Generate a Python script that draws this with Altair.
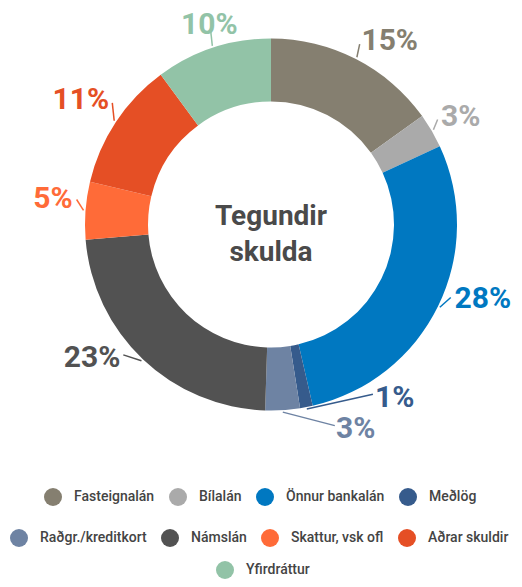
import altair as alt
import pandas as pd

# ---- data ----
categories = ["Fasteignalán", "Bílalán", "Önnur bankalán", "Meðlög",
              "Raðgr./kreditkort", "Námslán", "Skattur, vsk ofl",
              "Aðrar skuldir", "Yfirdráttur"]
shares = [15.1, 3.0, 28.3, 1.1, 3.0, 23.2, 5.0, 11.2, 10.1]
labels = ["15%", "3%", "28%", "1%", "3%", "23%", "5%", "11%", "10%"]
colors = ["#857f70", "#aaaaaa", "#0078c1", "#365b8c", "#6e83a3",
          "#525252", "#ff6b38", "#e54f25", "#92c3a7"]

# ---- layout (label placement relative to slice middle) ----
label_shift = [-1, -2, -4, -20, -14, 5, 3, 4, 1]      # degrees
label_radius = [205, 201, 198, 202, 215, 201, 200, 204, 209]
label_align = ["left", "left", "left", "left", "left", "right", "right", "right", "center"]

W, H = 506, 571
CX, CY = 263, 216.5
R_OUT, R_IN = 186, 123
FONT = "Roboto"

df = pd.DataFrame({
    "category": categories, "share": shares, "label": labels,
    "order": list(range(len(categories))),
    "shift": label_shift, "lr": label_radius, "align": label_align,
})

color_all = alt.Color("category:N", scale=alt.Scale(domain=categories, range=colors), legend=None)

base = alt.Chart(df).transform_window(
    cum="sum(share)", sort=[alt.SortField("order")], frame=[None, 0]
).transform_calculate(
    start="datum.cum - datum.share",
    mid="datum.cum - datum.share / 2",
).transform_calculate(
    am="datum.mid * 3.6 * PI / 180",
    al="(datum.mid * 3.6 + datum.shift) * PI / 180",
).transform_calculate(
    lx=f"{CX} + datum.lr * sin(datum.al)",
    ly=f"{CY} - datum.lr * cos(datum.al)",
    x1=f"{CX} + {R_OUT + 2} * sin(datum.am)",
    y1=f"{CY} - {R_OUT + 2} * cos(datum.am)",
    x2=f"{CX} + (datum.lr - 4) * sin(datum.al)",
    y2=f"{CY} - (datum.lr - 4) * cos(datum.al)",
)

arcs = base.mark_arc(x=CX, y=CY, radius=R_OUT, radius2=R_IN).encode(
    theta=alt.Theta("start:Q", scale=alt.Scale(domain=[0, 100], range=[0, 6.283185307])),
    theta2="cum:Q",
    color=color_all,
)

leaders = base.mark_rule(strokeWidth=1.5).encode(
    x=alt.X("x1:Q", scale=None, axis=None),
    y=alt.Y("y1:Q", scale=None, axis=None),
    x2="x2:Q", y2="y2:Q",
    color=color_all,
)

texts = []
for a in ["left", "right", "center"]:
    texts.append(
        base.transform_filter(f"datum.align == '{a}'").mark_text(
            align=a, baseline="middle", font=FONT, fontSize=30, fontWeight="bold"
        ).encode(
            x=alt.X("lx:Q", scale=None, axis=None),
            y=alt.Y("ly:Q", scale=None, axis=None),
            text="label:N",
            color=color_all,
        )
    )

center = alt.Chart(pd.DataFrame({"k": [0]})).mark_text(
    text=["Tegundir", "skulda"], lineHeight=36, font=FONT, fontSize=28,
    fontWeight="bold", color="#4a4a4a", align="center", baseline="middle"
).encode(x=alt.value(CX), y=alt.value(CY - 8))

legend_rows = [categories[0:4], categories[4:8], categories[8:]]
legend_pos = [(36, 480), (2, 521), (208, 553)]

legend_layers = []
for items, (lxp, lyp) in zip(legend_rows, legend_pos):
    rng = [colors[categories.index(c)] for c in items]
    legend_layers.append(
        alt.Chart(df).transform_filter("false").mark_circle().encode(
            color=alt.Color(
                "category:N",
                scale=alt.Scale(domain=items, range=rng),
                title=None,
                legend=alt.Legend(
                    orient="none", legendX=lxp, legendY=lyp,
                    direction="horizontal", columns=len(items),
                    symbolType="circle", symbolSize=324, symbolStrokeWidth=0,
                    symbolOpacity=1,
                    labelFont=FONT, labelFontSize=14, labelFontWeight=500,
                    labelColor="#444444", labelOffset=12, columnPadding=14,
                ),
            )
        )
    )

chart = alt.layer(arcs, leaders, *texts, center, *legend_layers).resolve_scale(
    color="independent"
).properties(
    width=W, height=H, padding=0,
    autosize=alt.AutoSizeParams(type="none"),
).configure_view(stroke=None)

chart.save("out.html", embed_options={"renderer": "svg", "actions": False})
